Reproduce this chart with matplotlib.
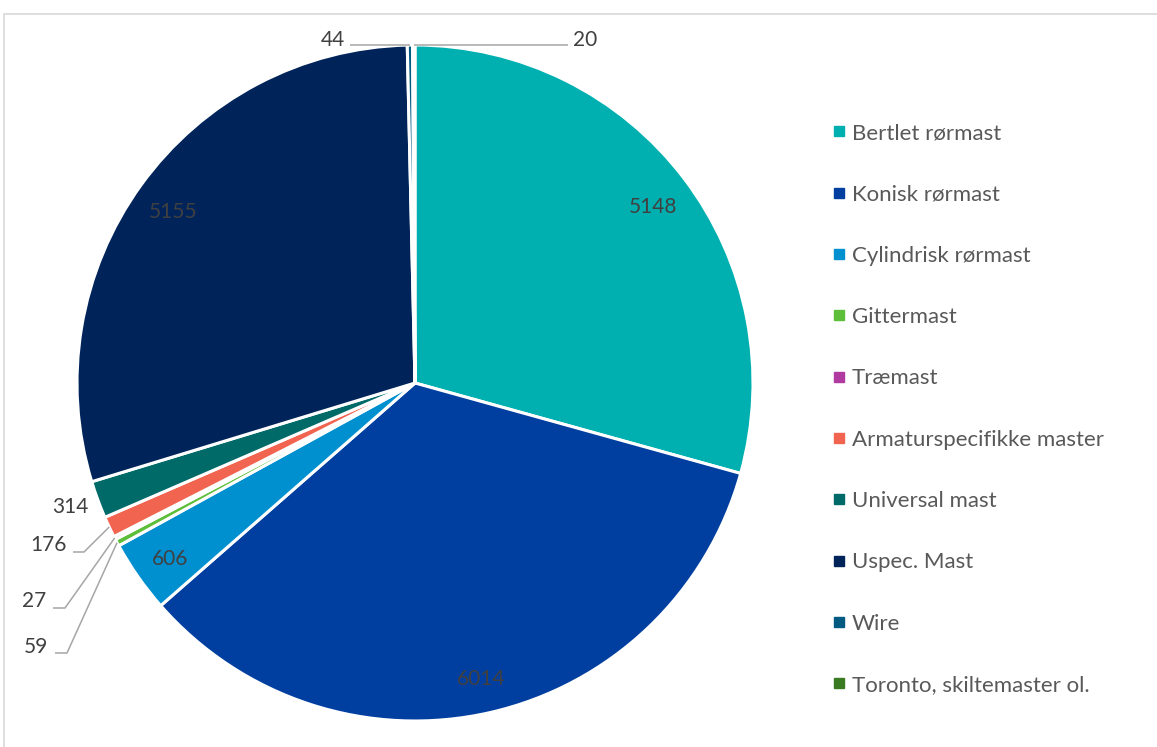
import matplotlib
matplotlib.use("Agg")
import matplotlib.pyplot as plt
import numpy as np
from matplotlib.lines import Line2D
from matplotlib.patches import Rectangle

labels = ["Bertlet rørmast", "Konisk rørmast", "Cylindrisk rørmast", "Gittermast",
          "Træmast", "Armaturspecifikke master", "Universal mast", "Uspec. Mast",
          "Wire", "Toronto, skiltemaster ol."]
values = [5148, 6014, 606, 59, 27, 176, 314, 5155, 44, 20]
colors = ["#00B0B0", "#003FA0", "#0090D0", "#5DBE3A", "#B13AA0",
          "#F06450", "#006A68", "#00245A", "#005A82", "#3A7A22"]

W, H = 1157, 747
CX, CY, R = 415, 383, 338

plt.rcParams["font.family"] = ["Lato", "DejaVu Sans"]
TXT = "#404040"


def px(x, y):
    # pixel position -> data coords (pie radius = 1)
    return (x - CX) / R, (CY - y) / R


def mid(w):
    a = np.deg2rad((w.theta1 + w.theta2) / 2)
    return np.cos(a), np.sin(a)


fig = plt.figure(figsize=(W / 100, H / 100), dpi=100)
ax = fig.add_axes([0, 0, 1, 1])
wedges, _ = ax.pie(values, colors=colors, startangle=90, counterclock=False,
                   wedgeprops=dict(edgecolor="white", linewidth=2.2))
ax.set_xlim(-CX / R, (W - CX) / R)
ax.set_ylim(-(H - CY) / R, CY / R)
ax.axis("off")

# labels inside the big slices
for i in [0, 1, 2, 7]:
    mx, my = mid(wedges[i])
    ax.text(0.885 * mx, 0.885 * my - 0.008, str(values[i]), ha="center",
            va="center_baseline", fontsize=15, color=TXT)

# outside labels with leader lines: (elbow, line end, text pos, ha)
outside = {
    8: (None, (350, 45), (345, 40), "right"),
    9: (None, (568, 45), (573, 40), "left"),
    6: (None, None, (70, 507), "center"),
    5: ((84, 552), (73, 552), (67, 545), "right"),
    4: ((65, 608), (53, 608), (46, 601), "right"),
    3: ((67, 653), (55, 653), (48, 647), "right"),
}
for i, (elbow, end, tpos, ha) in outside.items():
    mx, my = mid(wedges[i])
    if end is not None:
        if elbow is None:
            pts = [(mx, px(0, 45)[1])]
        else:
            pts = [(mx, my), px(*elbow)]
        pts.append(px(*end))
        xs, ys = zip(*pts)
        ax.plot(xs, ys, color="#A6A6A6", lw=1.1, solid_capstyle="butt")
    ax.text(*px(*tpos), str(values[i]), ha=ha, va="center", fontsize=15, color=TXT)

handles = [Line2D([], [], marker="s", ls="none", markersize=7, color=c) for c in colors]
fig.legend(handles, labels, loc="upper left", bbox_to_anchor=(830 / W, 1 - 123 / H),
           frameon=False, fontsize=16, labelcolor="#595959", handlelength=0.8,
           handletextpad=0.19, labelspacing=1.86, borderpad=0, borderaxespad=0)

fig.add_artist(Rectangle((4 / W, -0.1), 1.2, 1 - 14 / H + 0.1, transform=fig.transFigure,
                         fill=False, edgecolor="#D9D9D9", lw=1.2))

fig.savefig("out.png", dpi=100)
